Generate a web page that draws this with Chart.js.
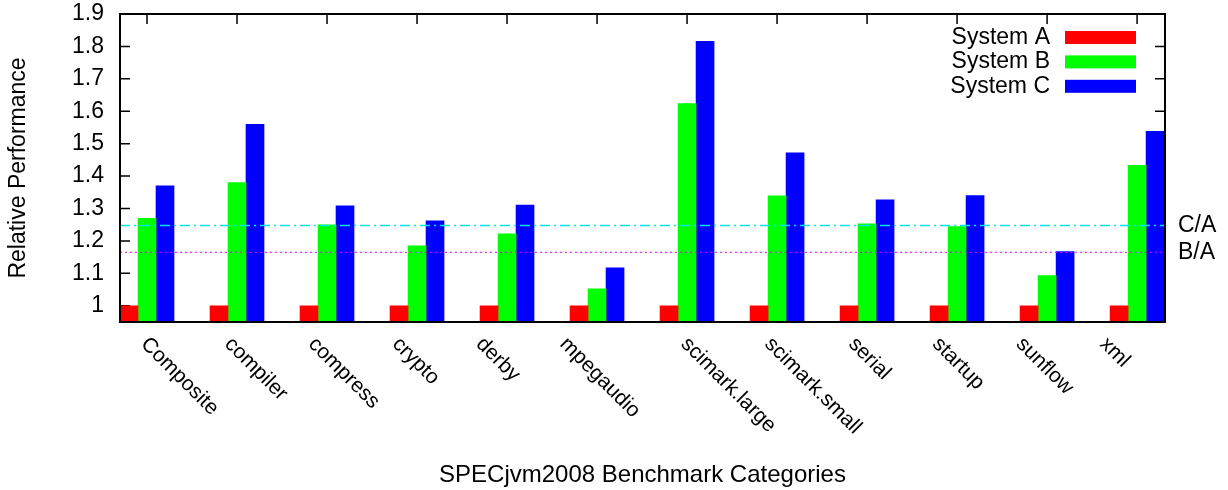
<!DOCTYPE html>
<html>
<head>
<meta charset="utf-8">
<script src="https://cdn.jsdelivr.net/npm/chart.js@4.4.1/dist/chart.umd.min.js"></script>
<style>
  html, body { margin: 0; padding: 0; background: #fff; }
  #wrap { width: 1228px; height: 490px; }
</style>
</head>
<body>
<div id="wrap"><canvas id="chart" width="1228" height="490"></canvas></div>
<script>
const categories = ["Composite", "compiler", "compress", "crypto", "derby", "mpegaudio",
  "scimark.large", "scimark.small", "serial", "startup", "sunflow", "xml"];
const systemA = [1, 1, 1, 1, 1, 1, 1, 1, 1, 1, 1, 1];
const systemB = [1.27, 1.38, 1.25, 1.185, 1.222, 1.052, 1.624, 1.339, 1.253, 1.244, 1.093, 1.433];
const systemC = [1.37, 1.56, 1.308, 1.262, 1.311, 1.117, 1.816, 1.472, 1.327, 1.34, 1.167, 1.538];
const yTicks = [1, 1.1, 1.2, 1.3, 1.4, 1.5, 1.6, 1.7, 1.8, 1.9];
const ratioCA = 1.248;
const ratioBA = 1.165;

const X_MIN = -0.3;
const X_MAX = 11.31;
const FONT = "'Liberation Sans', Arial, Helvetica, sans-serif";

function toPoints(values) {
  return values.map((v, i) => ({ x: i, y: v }));
}

const frame = {
  id: "frame",
  beforeDatasetsDraw(chart) {
    const { ctx, chartArea: a, scales } = chart;
    ctx.save();
    ctx.strokeStyle = "#000";
    ctx.lineWidth = 1.5;
    ctx.beginPath();
    for (const t of yTicks) {
      const y = scales.y.getPixelForValue(t);
      ctx.moveTo(a.left, y);
      ctx.lineTo(a.left + 10, y);
      ctx.moveTo(a.right, y);
      ctx.lineTo(a.right - 10, y);
    }
    categories.forEach((_, i) => {
      const x = scales.x.getPixelForValue(i);
      ctx.moveTo(x, a.top);
      ctx.lineTo(x, a.top + 10);
    });
    ctx.stroke();
    ctx.restore();
  },
  afterDatasetsDraw(chart) {
    const { ctx, chartArea: a, scales } = chart;
    ctx.save();
    ctx.strokeStyle = "#000";
    ctx.lineWidth = 2;
    ctx.strokeRect(a.left, a.top, a.right - a.left, a.bottom - a.top);

    ctx.fillStyle = "#000";

    // category labels, rotated down to the right
    ctx.font = `21px ${FONT}`;
    ctx.textAlign = "left";
    ctx.textBaseline = "alphabetic";
    categories.forEach((name, i) => {
      // the original labels creep left within each block of six
      const x = scales.x.getPixelForValue(i) - 7 - (i % 6) * 6.2;
      ctx.save();
      ctx.translate(x, a.bottom + 23);
      ctx.rotate(Math.PI / 4);
      ctx.fillText(name, 0, 0);
      ctx.restore();
    });

    // ratio labels on the right
    ctx.font = `23px ${FONT}`;
    ctx.textBaseline = "middle";
    ctx.fillText("C/A", a.right + 13, scales.y.getPixelForValue(ratioCA));
    ctx.fillText("B/A", a.right + 13, scales.y.getPixelForValue(ratioBA));

    // legend: text then swatch
    const bars = chart.data.datasets.filter(d => d.type !== "line");
    bars.forEach((d, i) => {
      const y = 37.5 + i * 24.4;
      ctx.textAlign = "right";
      ctx.fillStyle = "#000";
      ctx.fillText(d.label, a.right - 115, y);
      ctx.fillStyle = d.backgroundColor;
      ctx.fillRect(a.right - 100, y - 6.5, 71, 13);
    });
    ctx.restore();
  }
};

const ctx = document.getElementById("chart");
const chart = new Chart(ctx, {
  type: "bar",
  data: {
    datasets: [
      { label: "System A", data: toPoints(systemA), backgroundColor: "#ff0000", order: 1 },
      { label: "System B", data: toPoints(systemB), backgroundColor: "#00ff00", order: 1 },
      { label: "System C", data: toPoints(systemC), backgroundColor: "#0000ff", order: 1 },
      {
        type: "line", label: "C/A", order: 0,
        data: [{ x: X_MIN, y: ratioCA }, { x: X_MAX, y: ratioCA }],
        borderColor: "#00e6e6", borderWidth: 1.5, borderDash: [10, 4, 2, 4], pointRadius: 0
      },
      {
        type: "line", label: "B/A", order: 0,
        data: [{ x: X_MIN, y: ratioBA }, { x: X_MAX, y: ratioBA }],
        borderColor: "#ee00ee", borderWidth: 1, borderDash: [2, 3], pointRadius: 0
      }
    ]
  },
  options: {
    responsive: false,
    animation: false,
    layout: { padding: { top: 14, right: 63, left: 0, bottom: 0 } },
    datasets: { bar: { barThickness: 18 } },
    plugins: { legend: { display: false }, tooltip: { enabled: false } },
    scales: {
      x: {
        type: "linear",
        offset: false,
        min: X_MIN,
        max: X_MAX,
        grid: { display: false, drawTicks: false, offset: false },
        border: { display: false },
        ticks: { display: false },
        afterBuildTicks: (scale) => { scale.ticks = categories.map((_, i) => ({ value: i })); },
        afterFit: (scale) => {
          scale.height = 168;
          scale.paddingLeft = 0;
          scale.paddingRight = 0;
        },
        title: {
          display: true,
          text: "SPECjvm2008 Benchmark Categories",
          color: "#000",
          font: { family: FONT, size: 24 },
          padding: { top: 0, bottom: 0 }
        }
      },
      y: {
        min: 0.95,
        max: 1.9,
        grid: { display: false, drawTicks: false },
        border: { display: false },
        afterBuildTicks: (scale) => { scale.ticks = yTicks.map(v => ({ value: v })); },
        afterFit: (scale) => {
          scale.width = 120;
          scale.paddingTop = 0;
          scale.paddingBottom = 0;
        },
        ticks: {
          padding: 16,
          color: "#000",
          font: { family: FONT, size: 23 },
          callback: (v) => String(Math.round(v * 10) / 10)
        },
        title: {
          display: true,
          text: "Relative Performance",
          color: "#000",
          font: { family: FONT, size: 23 },
          padding: { top: 5, bottom: 0 }
        }
      }
    }
  },
  plugins: [frame]
});
</script>
</body>
</html>
